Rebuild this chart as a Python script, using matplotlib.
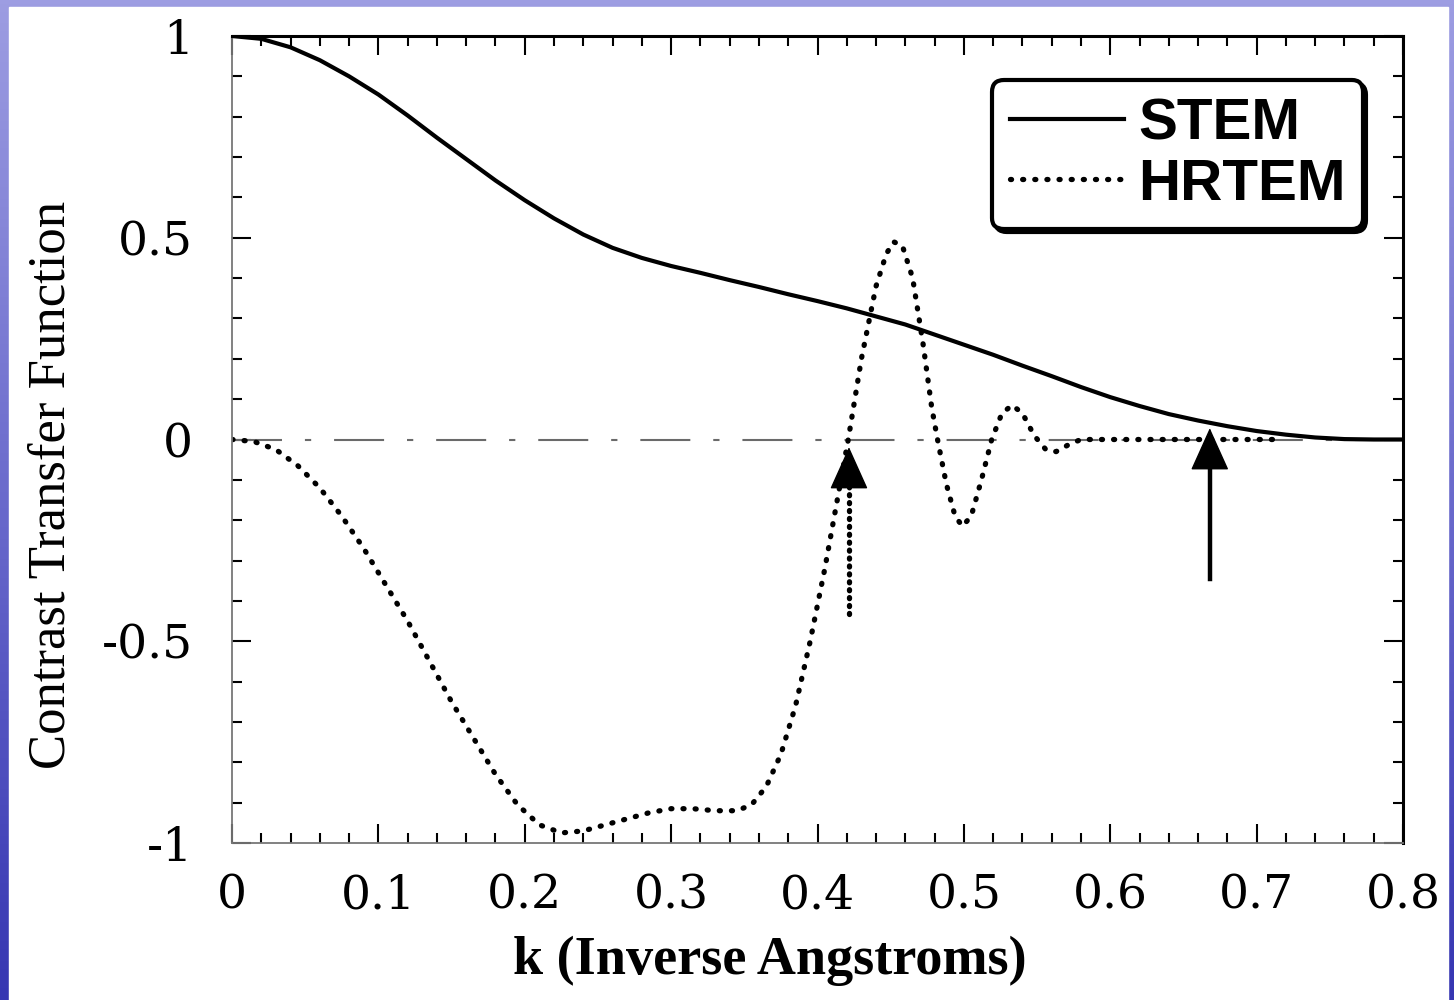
import matplotlib.pyplot as plt
import numpy as np
from matplotlib.patches import Rectangle
from matplotlib.colors import LinearSegmentedColormap
from matplotlib.ticker import MultipleLocator, FuncFormatter

# STEM contrast transfer function
k_stem = [0.000, 0.020, 0.040, 0.060, 0.080, 0.100, 0.120, 0.140, 0.160, 0.180,
          0.200, 0.220, 0.240, 0.260, 0.280, 0.300, 0.320, 0.340, 0.360, 0.380,
          0.400, 0.420, 0.440, 0.460, 0.480, 0.500, 0.520, 0.540, 0.560, 0.580,
          0.600, 0.620, 0.640, 0.660, 0.680, 0.700, 0.720, 0.740, 0.760, 0.780,
          0.800]
ctf_stem = [1.000, 0.993, 0.972, 0.940, 0.900, 0.855, 0.803, 0.748, 0.695, 0.642,
            0.593, 0.548, 0.508, 0.475, 0.450, 0.430, 0.413, 0.395, 0.378, 0.360,
            0.343, 0.325, 0.305, 0.285, 0.260, 0.235, 0.210, 0.183, 0.157, 0.130,
            0.105, 0.083, 0.063, 0.047, 0.033, 0.021, 0.012, 0.005, 0.001, 0.000,
            0.000]

# HRTEM contrast transfer function
k_hrtem = [0.000, 0.015, 0.030, 0.045, 0.060, 0.075, 0.090, 0.105, 0.120, 0.135,
           0.150, 0.165, 0.180, 0.195, 0.210, 0.225, 0.240, 0.255, 0.270, 0.285,
           0.300, 0.315, 0.330, 0.345, 0.355, 0.365, 0.375, 0.385, 0.395, 0.405,
           0.415, 0.421, 0.430, 0.440, 0.447, 0.452, 0.458, 0.465, 0.472, 0.478,
           0.482, 0.488, 0.494, 0.499, 0.505, 0.512, 0.519, 0.526, 0.533, 0.540,
           0.548, 0.556, 0.563, 0.572, 0.580, 0.713]
ctf_hrtem = [0.000, -0.005, -0.025, -0.065, -0.120, -0.190, -0.270, -0.360, -0.450, -0.550,
             -0.650, -0.740, -0.830, -0.905, -0.955, -0.975, -0.970, -0.955, -0.940, -0.925,
             -0.915, -0.915, -0.920, -0.920, -0.905, -0.860, -0.780, -0.660, -0.500, -0.320,
             -0.120, 0.000, 0.200, 0.380, 0.460, 0.490, 0.480, 0.400, 0.240, 0.080,
             0.000, -0.110, -0.190, -0.215, -0.190, -0.100, 0.000, 0.065, 0.085, 0.065,
             0.010, -0.025, -0.030, -0.012, 0.000, 0.000]

# arrows marking the resolution limits
arrow_k = [0.4215, 0.668]
arrow_tail = [-0.433, -0.346]
arrow_tip = [-0.012, 0.035]

fig = plt.figure(figsize=(14.54, 10), dpi=100)

# slide background with white scanned panel
bg = fig.add_axes([0, 0, 1, 1], zorder=-10)
cmap = LinearSegmentedColormap.from_list("slide", ["#9d9de2", "#6a6acc", "#3636b2"])
bg.imshow(np.linspace(0, 1, 256).reshape(-1, 1), aspect="auto", cmap=cmap,
          extent=[0, 1, 0, 1])
bg.add_patch(Rectangle((9 / 1454, 0), 1439 / 1454, 993 / 1000, color="white"))
bg.set_xlim(0, 1)
bg.set_ylim(0, 1)
bg.axis("off")

ax = fig.add_axes([232 / 1454, 0.157, 1171 / 1454, 0.807])
ax.set_facecolor("none")

ax.axhline(0, color="#6a6a6a", lw=1.5, dashes=(24, 11, 3, 11))
ax.plot(k_stem, ctf_stem, color="black", lw=3.0, label="STEM")
ax.plot(k_hrtem, ctf_hrtem, color="black", lw=3.8, linestyle=(0, (0.2, 2.1)),
        dash_capstyle="round", label="HRTEM")

for i, (k, y0, y1) in enumerate(zip(arrow_k, arrow_tail, arrow_tip)):
    if i == 0:
        ax.plot([k, k], [y0, y1 - 0.06], color="black", lw=3.8,
                linestyle=(0, (0.2, 1.3)), dash_capstyle="round")
    else:
        ax.plot([k, k], [y0, y1 - 0.06], color="black", lw=3.2)
    ax.annotate("", xy=(k, y1), xytext=(k, y1 - 0.1),
                arrowprops=dict(arrowstyle="-|>,head_length=1.0,head_width=0.45",
                                mutation_scale=28, color="black", lw=1))

ax.set_xlim(0, 0.8)
ax.set_ylim(-1, 1)
ax.xaxis.set_major_locator(MultipleLocator(0.1))
ax.xaxis.set_minor_locator(MultipleLocator(0.02))
ax.yaxis.set_major_locator(MultipleLocator(0.5))
ax.yaxis.set_minor_locator(MultipleLocator(0.1))
fmt = FuncFormatter(lambda v, _: f"{round(v, 2) + 0:g}")
ax.xaxis.set_major_formatter(fmt)
ax.yaxis.set_major_formatter(fmt)

ax.tick_params(which="both", direction="in", top=True, right=True, width=1.5)
ax.tick_params(which="major", length=14)
ax.tick_params(which="minor", length=7)
ax.tick_params(axis="x", pad=22)
ax.tick_params(axis="y", pad=28)
for lab in ax.get_xticklabels() + ax.get_yticklabels():
    lab.set_fontfamily("DejaVu Serif")
    lab.set_fontsize(34)

for side in ["left", "bottom"]:
    ax.spines[side].set_color("#777777")
    ax.spines[side].set_linewidth(1.3)
for side in ["top", "right"]:
    ax.spines[side].set_color("black")
    ax.spines[side].set_linewidth(2.2)

ax.set_xlabel("k (Inverse Angstroms)", fontfamily="Liberation Serif",
              fontweight="bold", fontsize=39)
ax.xaxis.set_label_coords(0.459, -0.115)
ax.set_ylabel("Contrast Transfer Function", fontfamily="Liberation Serif",
              fontsize=38)
ax.yaxis.set_label_coords(-0.134, 0.444)

leg = ax.legend(loc="upper right", bbox_to_anchor=(0.966, 0.945), borderaxespad=0,
                prop={"family": "Liberation Sans", "weight": "bold", "size": 42},
                handlelength=1.95, handletextpad=0.25, borderpad=0.3,
                labelspacing=0.1, fancybox=True, framealpha=1,
                shadow={"color": "black", "alpha": 1})
leg.get_frame().set_edgecolor("black")
leg.get_frame().set_linewidth(3.0)

fig.savefig("out.png", dpi=100)
